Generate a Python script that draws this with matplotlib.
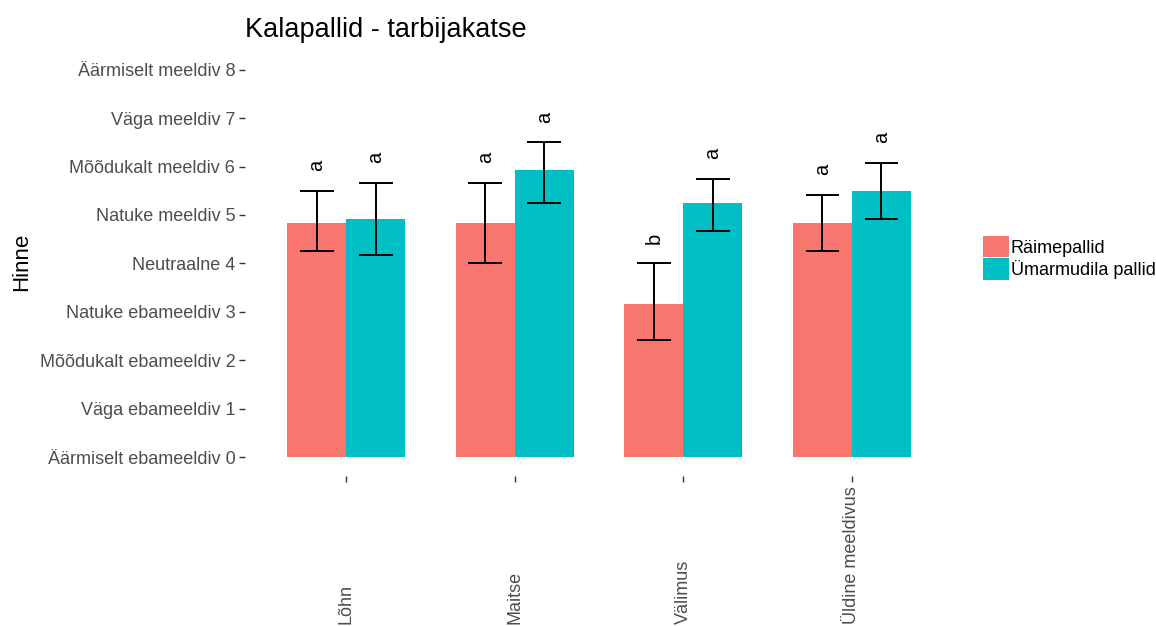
import matplotlib
matplotlib.use("Agg")
import matplotlib.pyplot as plt
import numpy as np
from matplotlib.patches import Patch
import matplotlib.transforms as mtransforms

plt.rcParams['font.family'] = ['Liberation Sans', 'DejaVu Sans']

categories = ["Lõhn", "Maitse", "Välimus", "Üldine meeldivus"]
series_names = ["Räimepallid", "Ümarmudila pallid"]
raime_mean = [4.83, 4.83, 3.17, 4.83]
raime_low = [4.25, 4.00, 2.42, 4.25]
raime_high = [5.50, 5.67, 4.00, 5.42]
umar_mean = [4.92, 5.92, 5.25, 5.50]
umar_low = [4.17, 5.25, 4.67, 4.92]
umar_high = [5.67, 6.50, 5.75, 6.08]
raime_letters = ["a", "a", "b", "a"]
umar_letters = ["a", "a", "a", "a"]
ytick_values = list(range(9))
ytick_labels = ["Äärmiselt ebameeldiv 0", "Väga ebameeldiv 1", "Mõõdukalt ebameeldiv 2",
                "Natuke ebameeldiv 3", "Neutraalne 4", "Natuke meeldiv 5",
                "Mõõdukalt meeldiv 6", "Väga meeldiv 7", "Äärmiselt meeldiv 8"]

colors = ["#F8766D", "#00BFC4"]
W, H = 1156, 626
fig = plt.figure(figsize=(W / 100, H / 100), dpi=100)
ax = fig.add_axes([245 / W, 1 - 476.4 / H, 708 / W, 426 / H])

x = np.arange(1, len(categories) + 1)
bw = 0.35
cap = 0.1
offset = 0.175
groups = [(raime_mean, raime_low, raime_high, raime_letters, -offset),
          (umar_mean, umar_low, umar_high, umar_letters, offset)]
for (m, lo, hi, let, off), c in zip(groups, colors):
    xs = x + off
    ax.bar(xs, m, width=bw, color=c, zorder=1)
    ax.vlines(xs, lo, hi, color="black", lw=1.4, zorder=2)
    ax.hlines(lo, xs - cap, xs + cap, color="black", lw=1.4, zorder=2)
    ax.hlines(hi, xs - cap, xs + cap, color="black", lw=1.4, zorder=2)
    for xi, h, l in zip(xs, hi, let):
        ax.text(xi, h + 0.52, l, rotation=90, ha="center", va="center",
                fontsize=14.5, color="black")

ax.set_xlim(0.4, 4.6)
ax.set_ylim(-0.4, 8.4)
ax.set_yticks(ytick_values)
ax.set_yticklabels(ytick_labels, fontsize=13, color="#4D4D4D")
ax.set_xticks(x)
ax.set_xticklabels([""] * len(categories))
ax.tick_params(axis="both", length=4, width=1, color="#333333")
ax.tick_params(axis="y", pad=3)
for s in ax.spines.values():
    s.set_visible(False)

trans = mtransforms.blended_transform_factory(ax.transData, fig.transFigure)
for xi, lab in zip(x, categories):
    ax.text(xi, 2 / H, lab, rotation=90, ha="center", va="bottom",
            fontsize=13, color="#4D4D4D", transform=trans)

fig.text(11 / W, 1 - 262 / H, "Hinne", rotation=90, ha="left", va="center",
         fontsize=16, color="black")
fig.text(245 / W, 1 - 30 / H, "Kalapallid - tarbijakatse", ha="left", va="center",
         fontsize=19.5, color="black")

handles = [Patch(facecolor=c, edgecolor="none") for c in colors]
fig.legend(handles, series_names, loc="upper left",
           bbox_to_anchor=(983 / W, 1 - 236 / H), frameon=False,
           fontsize=13, handlelength=1.45, handleheight=1.45,
           handletextpad=0.1, labelspacing=0.05, borderpad=0, borderaxespad=0)

fig.savefig("out.png", dpi=100)
